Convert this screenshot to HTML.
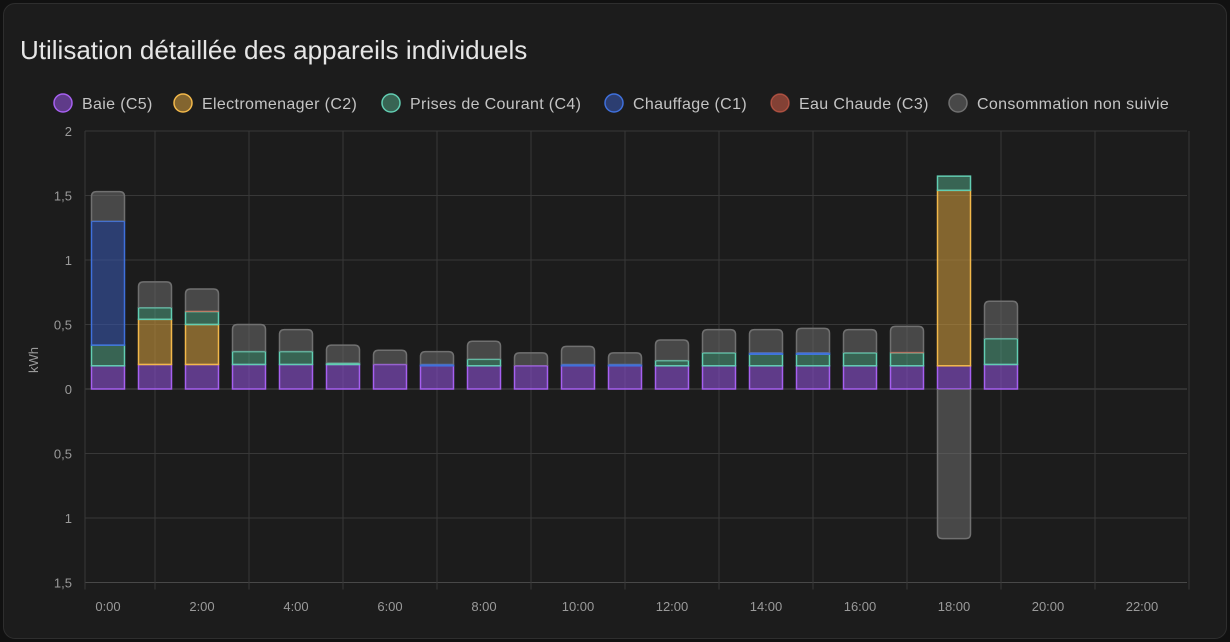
<!DOCTYPE html>
<html><head><meta charset="utf-8"><style>
html,body{margin:0;padding:0;background:#111;}
body{width:1230px;height:642px;overflow:hidden;font-family:"Liberation Sans",sans-serif;}
.card{position:absolute;left:3px;top:3px;width:1222px;height:634px;background:#1c1c1c;border:1px solid #2e2e2e;border-radius:12px;}
</style></head><body>
<div class="card"></div>
<svg id="chart" width="1230" height="642" style="position:absolute;left:0;top:0">
<text x="20" y="59" font-size="26" fill="#e6e6e6">Utilisation détaillée des appareils individuels</text>
<g id="legend"></g>
<g id="grid"></g>
<g id="bars"></g>
<text x="38" y="360" font-size="13" fill="#9a9a9a" transform="rotate(-90 38 360)" text-anchor="middle">kWh</text>
</svg>
<script>
const hours = ["0:00","1:00","2:00","3:00","4:00","5:00","6:00","7:00","8:00","9:00","10:00","11:00","12:00","13:00","14:00","15:00","16:00","17:00","18:00","19:00","20:00","21:00","22:00","23:00"];
const baie = [0.18,0.19,0.19,0.19,0.19,0.19,0.19,0.18,0.18,0.18,0.18,0.18,0.18,0.18,0.18,0.18,0.18,0.18,0.18,0.19];
const electro = [0,0.35,0.31,0,0,0,0,0,0,0,0,0,0,0,0,0,0,0,1.36,0];
const prises = [0.16,0.09,0.10,0.10,0.10,0.01,0,0,0.05,0,0,0,0.04,0.10,0.09,0.09,0.10,0.10,0.11,0.20];
const chauffage = [0.96,0,0,0,0,0,0,0.01,0,0,0.01,0.01,0,0,0.01,0.01,0,0,0,0];
const eau = [0,0,0.005,0,0,0,0,0,0,0,0,0,0,0,0,0,0,0.005,0,0];
const nonSuivie = [0.23,0.20,0.17,0.21,0.17,0.14,0.11,0.10,0.14,0.10,0.14,0.09,0.16,0.18,0.18,0.19,0.18,0.20,-1.16,0.29];
const yTicks = [2,1.5,1,0.5,0,-0.5,-1,-1.5];
const legendNames = ["Baie (C5)","Electromenager (C2)","Prises de Courant (C4)","Chauffage (C1)","Eau Chaude (C3)","Consommation non suivie"];

const NS="http://www.w3.org/2000/svg";
const X0=85,X1=1187,Y0=389,PPU=129,SLOT=47,BW=33;
const xC=i=>108+i*SLOT;
const yS=v=>Y0-v*PPU;
function mk(tag,attrs,parent){const e=document.createElementNS(NS,tag);for(const k in attrs)e.setAttribute(k,attrs[k]);parent.appendChild(e);return e;}
const styles=[
 {fill:"rgba(140,80,210,0.6)",stroke:"#a660f0"},
 {fill:"rgba(200,150,60,0.6)",stroke:"#f2b84a"},
 {fill:"rgba(80,160,130,0.55)",stroke:"#62cdb2"},
 {fill:"rgba(55,85,170,0.6)",stroke:"#3f70dc"},
 {fill:"rgba(200,90,70,0.6)",stroke:"rgba(224,98,79,0.6)"},
 {fill:"rgba(110,110,110,0.55)",stroke:"#707070"}];
const lx=[63,183,391,614,780,958];
const lg=document.getElementById('legend');
legendNames.forEach((n,i)=>{
 const c=mk('circle',{cx:lx[i],cy:103,r:9,fill:styles[i].fill,stroke:styles[i].stroke,'stroke-width':1.5},lg);
 
 
 const t=mk('text',{x:lx[i]+19,y:109,'font-size':16,fill:'#c4c4c4','letter-spacing':'0.35'},lg);
 t.textContent=n;
 
 
});
const g=document.getElementById('grid');
yTicks.forEach(v=>{
 const l=mk('line',{x1:X0,x2:X1,y1:yS(v),y2:yS(v),stroke:v===0||v===-1.5?'#484848':'#383838','stroke-width':1},g);
 
 
 const t=mk('text',{x:72,y:yS(v)+5,'font-size':13,fill:'#9a9a9a','text-anchor':'end'},g);
 t.textContent=String(Math.abs(v)).replace('.',',');
 
 
});
mk('line',{x1:X0,x2:X0,y1:yS(2),y2:yS(-1.5)+7,stroke:'#383838'},g);
for(let i=1;i<24;i+=2){
 const x=xC(i);
 const l=mk('line',{x1:x,x2:x,y1:yS(2),y2:yS(-1.5)+7,stroke:'#383838'},g);
 
 
}
for(let i=0;i<24;i+=2){
 const t=mk('text',{x:xC(i),y:611,'font-size':13,fill:'#9a9a9a','text-anchor':'middle'},g);
 t.textContent=hours[i];
 
 
}
const b=document.getElementById('bars');
const series=[baie,electro,prises,chauffage,eau,nonSuivie];
for(let i=0;i<baie.length;i++){
 let pos=0,neg=0;
 series.forEach((s,k)=>{
  const v=s[i]; if(!v) return;
  let y1,y2;
  if(v>0){y1=pos;y2=pos+v;pos=y2;}else{y1=neg;y2=neg+v;neg=y2;}
  const x=xC(i)-BW/2,top=yS(Math.max(y1,y2)),bot=yS(Math.min(y1,y2));
  let el;
  if(k===5){
   const r=5;
   let d;
   if(v>0) d=`M${x},${bot} L${x},${top+r} Q${x},${top} ${x+r},${top} L${x+BW-r},${top} Q${x+BW},${top} ${x+BW},${top+r} L${x+BW},${bot}`;
   else d=`M${x},${top} L${x},${bot-r} Q${x},${bot} ${x+r},${bot} L${x+BW-r},${bot} Q${x+BW},${bot} ${x+BW},${bot-r} L${x+BW},${top}`;
   el=mk('path',{d:d,fill:styles[k].fill,stroke:styles[k].stroke,'stroke-width':1.5},b);
  } else {
   el=mk('rect',{x:x,y:top,width:BW,height:Math.max(bot-top,0.5),fill:styles[k].fill,stroke:styles[k].stroke,'stroke-width':k===4?1:1.5},b);
  }
  
  
 });
}
</script>
</body></html>
